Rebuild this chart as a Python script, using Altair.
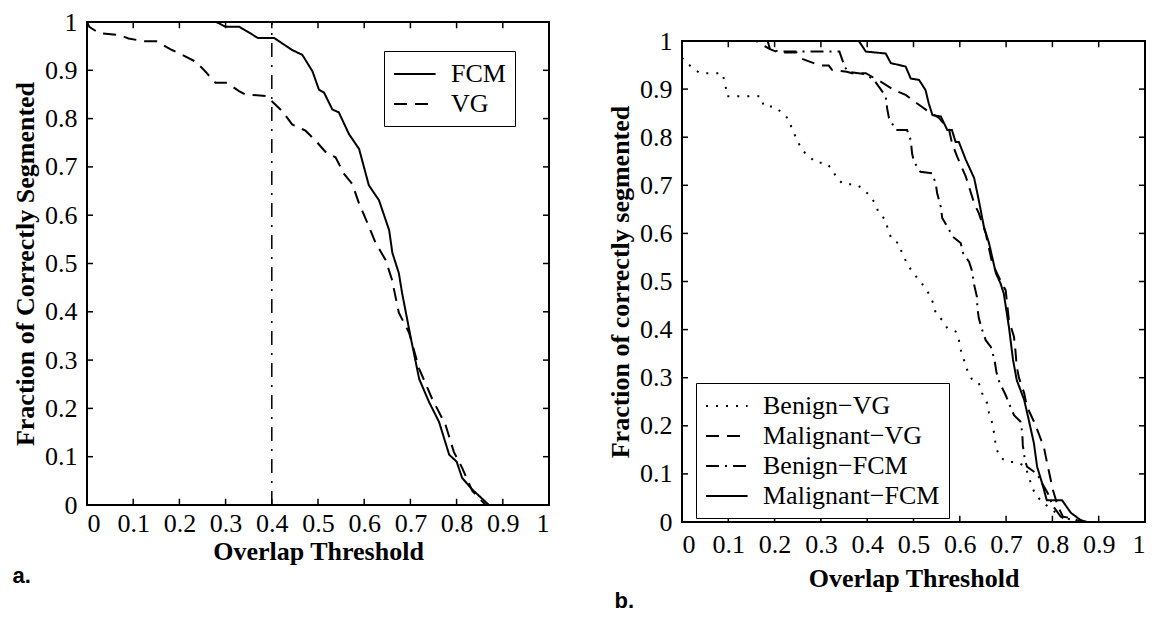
import altair as alt
import pandas as pd

# ---------------- data ----------------
ticks = [0, 0.1, 0.2, 0.3, 0.4, 0.5, 0.6, 0.7, 0.8, 0.9, 1]
threshold_line = [0.4]

# panel a
a_fcm_x = [0, 0.28, 0.30, 0.33, 0.37, 0.405, 0.444, 0.466, 0.488, 0.502, 0.513, 0.531, 0.545, 0.567,
           0.589, 0.61, 0.632, 0.654, 0.661, 0.675, 0.682, 0.70, 0.719, 0.74, 0.762, 0.784, 0.80, 0.812,
           0.834, 0.87]
a_fcm_y = [1, 1, 0.99, 0.99, 0.967, 0.967, 0.942, 0.932, 0.898, 0.86, 0.854, 0.819, 0.813, 0.768,
           0.737, 0.662, 0.631, 0.569, 0.522, 0.48, 0.439, 0.35, 0.261, 0.214, 0.172, 0.104, 0.09, 0.056,
           0.032, 0]
a_vg_x = [0, 0.005, 0.026, 0.07, 0.09, 0.123, 0.15, 0.184, 0.206, 0.235, 0.253, 0.278, 0.303, 0.329,
          0.343, 0.387, 0.40, 0.422, 0.444, 0.473, 0.495, 0.52, 0.538, 0.556, 0.574, 0.589, 0.61, 0.625,
          0.646, 0.66, 0.675, 0.697, 0.719, 0.747, 0.776, 0.794, 0.812, 0.834, 0.863]
a_vg_y = [1, 0.99, 0.977, 0.973, 0.966, 0.96, 0.96, 0.942, 0.932, 0.918, 0.901, 0.874, 0.874, 0.857,
          0.85, 0.847, 0.836, 0.816, 0.788, 0.775, 0.754, 0.727, 0.72, 0.686, 0.665, 0.624, 0.577, 0.542,
          0.508, 0.467, 0.398, 0.357, 0.282, 0.22, 0.166, 0.11, 0.077, 0.029, 0]

# panel b
b_bvg_x = [0, 0.008, 0.026, 0.04, 0.087, 0.094, 0.097, 0.17, 0.177, 0.2, 0.217, 0.23, 0.238, 0.248,
           0.259, 0.274, 0.289, 0.31, 0.324, 0.335, 0.35, 0.375, 0.389, 0.404, 0.417, 0.425, 0.44, 0.445,
           0.454, 0.469, 0.475, 0.486, 0.497, 0.512, 0.526, 0.537, 0.544, 0.548, 0.562, 0.573, 0.591,
           0.598, 0.602, 0.609, 0.616, 0.627, 0.641, 0.648, 0.659, 0.663, 0.67, 0.674, 0.678, 0.685,
           0.702, 0.723, 0.742, 0.749, 0.756, 0.764, 0.78, 0.80, 0.82, 0.84]
b_bvg_y = [0.965, 0.957, 0.941, 0.933, 0.933, 0.909, 0.885, 0.885, 0.864, 0.864, 0.85, 0.838, 0.816, 0.796,
           0.773, 0.761, 0.747, 0.747, 0.734, 0.713, 0.702, 0.702, 0.694, 0.68, 0.663, 0.642, 0.628, 0.606,
           0.586, 0.579, 0.559, 0.538, 0.52, 0.503, 0.486, 0.468, 0.451, 0.434, 0.42, 0.403, 0.396,
           0.378, 0.358, 0.337, 0.316, 0.295, 0.289, 0.268, 0.247, 0.227, 0.206, 0.185, 0.157, 0.136,
           0.125, 0.125, 0.115, 0.094, 0.073, 0.056, 0.04, 0.025, 0.01, 0]

b_mvg_x = [0, 0.16, 0.19, 0.209, 0.248, 0.259, 0.298, 0.317, 0.324, 0.356, 0.367, 0.397, 0.43, 0.46,
           0.483, 0.508, 0.533, 0.555, 0.577, 0.583, 0.594, 0.613, 0.631, 0.641, 0.656, 0.67, 0.691,
           0.699, 0.706, 0.717, 0.72, 0.723, 0.728, 0.739, 0.745, 0.76, 0.77, 0.782, 0.788, 0.795,
           0.801, 0.812, 0.823, 0.84, 0.864]
b_mvg_y = [1, 1, 0.983, 0.976, 0.976, 0.963, 0.949, 0.949, 0.94, 0.936, 0.933, 0.933, 0.915, 0.897,
           0.888, 0.87, 0.853, 0.84, 0.815, 0.788, 0.76, 0.718, 0.663, 0.642, 0.60, 0.538, 0.496,
           0.482, 0.42, 0.385, 0.358, 0.323, 0.299, 0.268, 0.24, 0.209, 0.185, 0.154, 0.125, 0.094,
           0.067, 0.032, 0.011, 0.008, 0]

b_bfcm_x = [0, 0.185, 0.19, 0.21, 0.34, 0.352, 0.36, 0.395, 0.414, 0.44, 0.443, 0.447, 0.462, 0.486,
            0.494, 0.497, 0.501, 0.515, 0.54, 0.548, 0.551, 0.559, 0.562, 0.573, 0.585, 0.602, 0.607,
            0.62, 0.627, 0.63, 0.637, 0.638, 0.641, 0.648, 0.656, 0.667, 0.675, 0.679, 0.685, 0.699,
            0.706, 0.717, 0.731, 0.735, 0.736, 0.74, 0.745, 0.767, 0.778, 0.79, 0.80, 0.818, 0.84, 0.86]
b_bfcm_y = [1, 1, 0.983, 0.978, 0.978, 0.945, 0.936, 0.931, 0.92, 0.885, 0.86, 0.84, 0.815, 0.815,
            0.794, 0.766, 0.749, 0.728, 0.725, 0.704, 0.684, 0.655, 0.632, 0.614, 0.593, 0.58, 0.559,
            0.541, 0.52, 0.497, 0.468, 0.445, 0.424, 0.40, 0.378, 0.364, 0.337, 0.312, 0.292, 0.264,
            0.247, 0.222, 0.209, 0.185, 0.16, 0.133, 0.115, 0.10, 0.08, 0.06, 0.035, 0.011, 0.005, 0]

b_mfcm_x = [0, 0.382, 0.397, 0.44, 0.451, 0.483, 0.494, 0.512, 0.526, 0.533, 0.541, 0.559, 0.573,
            0.583, 0.591, 0.598, 0.613, 0.631, 0.641, 0.652, 0.663, 0.678, 0.688, 0.695, 0.706, 0.715,
            0.723, 0.739, 0.749, 0.76, 0.767, 0.778, 0.788, 0.821, 0.84, 0.861, 0.875]
b_mfcm_y = [1, 1, 0.978, 0.974, 0.954, 0.947, 0.922, 0.919, 0.898, 0.87, 0.846, 0.843, 0.815,
            0.815, 0.79, 0.79, 0.753, 0.715, 0.669, 0.614, 0.58, 0.517, 0.496, 0.475, 0.406, 0.337,
            0.295, 0.254, 0.212, 0.164, 0.115, 0.08, 0.045, 0.045, 0.019, 0.004, 0]

a_names = ["FCM", "VG"]
b_names = ["Benign\u2212VG", "Malignant\u2212VG", "Benign\u2212FCM", "Malignant\u2212FCM"]


def long_table(series):
    rows = []
    for name, xs, ys in series:
        for i, (xv, yv) in enumerate(zip(xs, ys)):
            rows.append({"series": name, "x": xv, "y": yv, "i": i})
    return pd.DataFrame(rows)


a_df = long_table([(a_names[0], a_fcm_x, a_fcm_y), (a_names[1], a_vg_x, a_vg_y)])
b_df = long_table([(b_names[0], b_bvg_x, b_bvg_y), (b_names[1], b_mvg_x, b_mvg_y),
                   (b_names[2], b_bfcm_x, b_bfcm_y), (b_names[3], b_mfcm_x, b_mfcm_y)])
tick_df = pd.DataFrame({"t": ticks})
thr_df = pd.DataFrame({"x": threshold_line})

SERIF = "Liberation Serif"
SANS = "Liberation Sans"
FS = 26
TICK_LEN = 0.013  # inward tick length, in data units of the [0, 1] axes
DASH_SOLID = [1, 0]
DASH_DASHED = [13, 8]
DASH_DOTDASH = [13, 6, 2, 6]
DASH_DOT = [2, 8]
LEGEND_LINE = "M-1,0H2.2"  # a flat line symbol, longer than it is tall


def frame_ticks():
    base = alt.Chart(tick_df).mark_rule(color="black", strokeWidth=1.5)
    return [
        base.encode(x=alt.X("t:Q"), y=alt.datum(0), y2=alt.datum(TICK_LEN)),
        base.encode(x=alt.X("t:Q"), y=alt.datum(1), y2=alt.datum(1 - TICK_LEN)),
        base.encode(y=alt.Y("t:Q"), x=alt.datum(0), x2=alt.datum(TICK_LEN)),
        base.encode(y=alt.Y("t:Q"), x=alt.datum(1), x2=alt.datum(1 - TICK_LEN)),
    ]


def panel(df, names, dashes, ytitle, legend_x, legend_y, w, h, label_pad_x, title_pad_x, extra=None):
    xs = alt.Scale(domain=[0, 1], nice=False)
    ys = alt.Scale(domain=[0, 1], nice=False)
    lines = alt.Chart(df).mark_line(color="black", strokeWidth=2, clip=True).encode(
        x=alt.X("x:Q", scale=xs, axis=alt.Axis(
            title="Overlap Threshold", values=ticks, format="~g", grid=False, ticks=False, domain=False,
            labelFont=SERIF, labelFontSize=FS, labelColor="black", labelPadding=label_pad_x,
            titleFont=SERIF, titleFontSize=FS, titleFontWeight="bold", titleColor="black",
            titlePadding=title_pad_x)),
        y=alt.Y("y:Q", scale=ys, axis=alt.Axis(
            title=ytitle, values=ticks, format="~g", grid=False, ticks=False, domain=False,
            labelFont=SERIF, labelFontSize=FS, labelColor="black", labelPadding=10,
            titleFont=SERIF, titleFontSize=FS, titleFontWeight="bold", titleColor="black",
            titlePadding=6)),
        strokeDash=alt.StrokeDash("series:N", scale=alt.Scale(domain=names, range=dashes),
                                  sort=names,
                                  legend=alt.Legend(
                                      title=None, orient="none", legendX=legend_x, legendY=legend_y,
                                      labelFont=SERIF, labelFontSize=FS, labelColor="black",
                                      symbolType=LEGEND_LINE, symbolSize=676, symbolStrokeWidth=2,
                                      symbolStrokeColor="black", labelOffset=30, rowPadding=3,
                                      padding=9, strokeColor="black", fillColor="white",
                                      labelLimit=400)),
        order="i:Q",
    )
    layers = [lines] + frame_ticks()
    if extra is not None:
        layers.append(extra)
    return alt.layer(*layers).properties(width=w, height=h)


thr_rule = alt.Chart(thr_df).mark_rule(color="black", strokeWidth=1.5, strokeDash=[14, 8, 2, 8]).encode(
    x=alt.X("x:Q"), y=alt.datum(0), y2=alt.datum(1))

left = panel(a_df, a_names, [DASH_SOLID, DASH_DASHED], "Fraction of Correctly Segmented",
             297, 29, 462, 483, 5, 2, extra=thr_rule).properties(
    title=alt.TitleParams("a.", orient="bottom", anchor="start", frame="bounds", font=SANS,
                          fontSize=22, fontWeight="bold", color="black", offset=2, dx=0))

right_inner = panel(b_df, b_names, [DASH_DOT, DASH_DASHED, DASH_DOTDASH, DASH_SOLID],
                    "Fraction of correctly segmented", 14, 342, 463, 481, 9, 8).properties(
    title=alt.TitleParams("b.", orient="bottom", anchor="start", frame="bounds", font=SANS,
                          fontSize=22, fontWeight="bold", color="black", offset=0, dx=7))

spacer = alt.Chart(pd.DataFrame({"v": [0]})).mark_point(opacity=0).properties(
    width=1, height=4, view=alt.ViewBackground(stroke=None))

right = alt.vconcat(spacer, right_inner, spacing=0).resolve_scale(strokeDash="independent")

chart = alt.hconcat(left, right, spacing=55).resolve_scale(
    strokeDash="independent"
).resolve_legend(strokeDash="independent").properties(
    padding={"left": 3, "top": 0, "right": 0, "bottom": 0}
).configure_view(stroke="black", strokeWidth=2)

chart.save("out.html", embed_options={"renderer": "svg", "actions": False})
